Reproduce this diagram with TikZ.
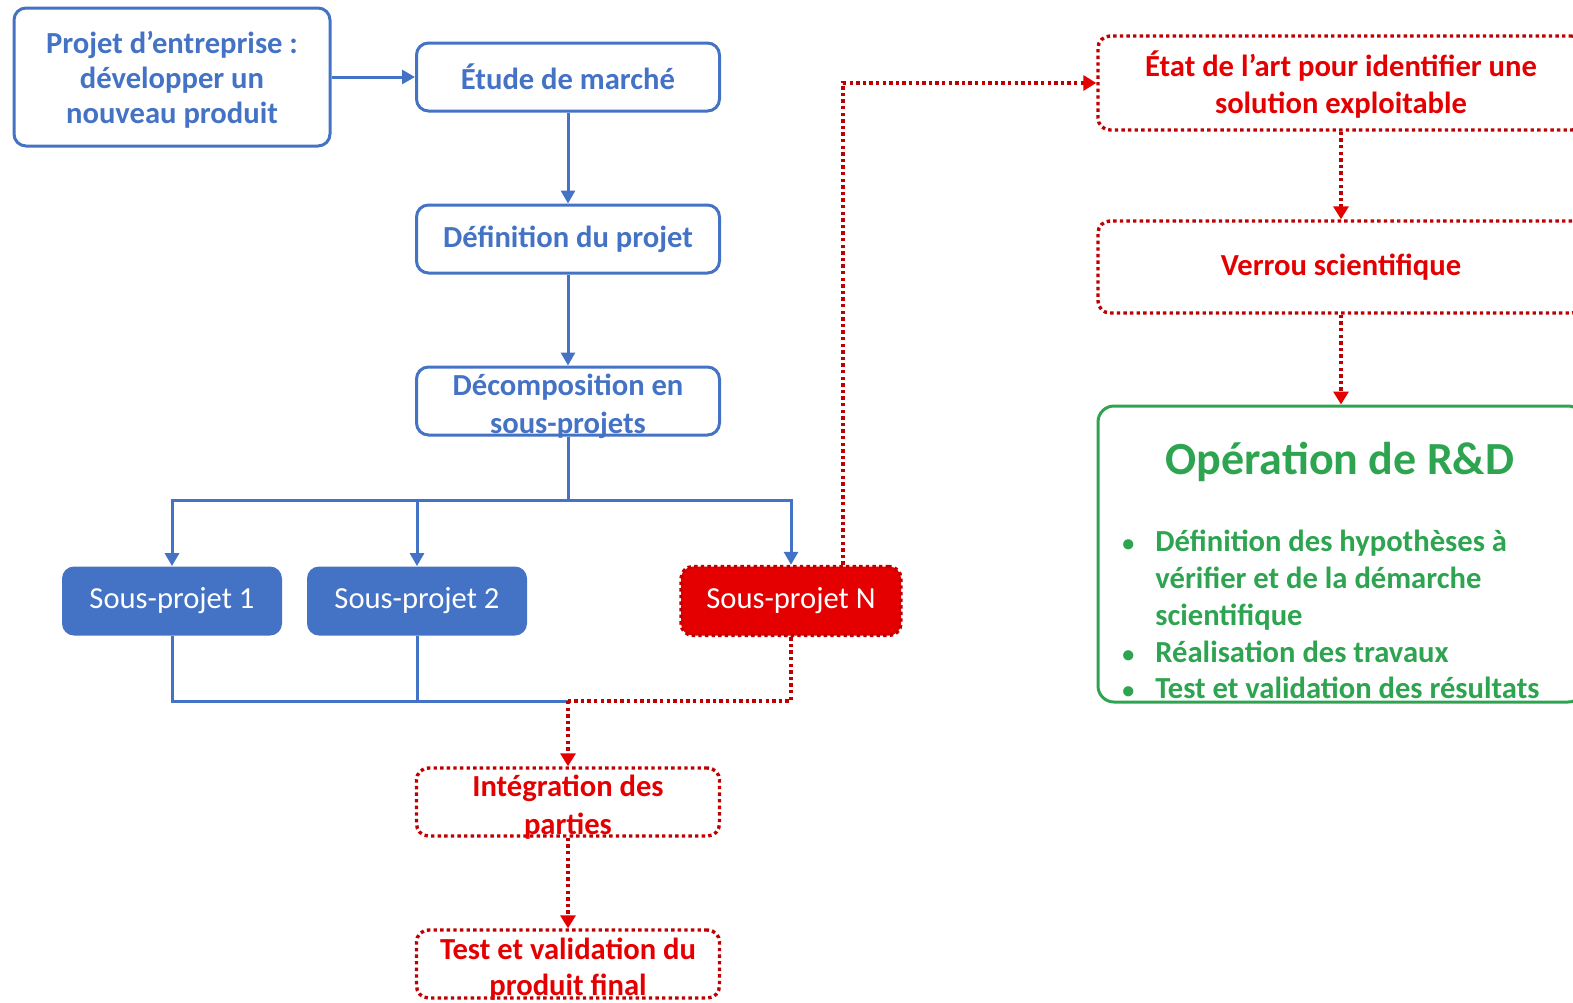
\documentclass[tikz,border=0pt]{standalone}
\usepackage{fontspec}
\setmainfont{Carlito}
\usetikzlibrary{arrows.meta}

\definecolor{bleu}{RGB}{68,114,196}
\definecolor{rouge}{RGB}{228,0,0}
\definecolor{rougef}{RGB}{192,0,0}
\definecolor{vert}{RGB}{46,164,80}

\tikzset{
  boite/.style={draw=bleu,line width=1.5pt,rounded corners=6pt,text=bleu,
    font=\bfseries\fontsize{15.3}{18.5}\selectfont,align=center,
    minimum width=151.5pt,minimum height=34pt,inner sep=2pt},
  plein/.style={fill=bleu,rounded corners=6pt,text=white,
    font=\fontsize{15.3}{18}\selectfont,minimum width=110pt,minimum height=34.5pt},
  pointille/.style={draw=rougef,line width=1.7pt,dash pattern=on 1.7pt off 1.6pt,
    rounded corners=6pt,text=rouge,font=\bfseries\fontsize{15.3}{18.5}\selectfont,
    align=center,minimum width=151.5pt,minimum height=34pt,inner sep=2pt},
  texte/.style={align=center,inner sep=0pt,yshift=-2.5pt},
  ligne/.style={draw=bleu,line width=1.5pt},
  fleche/.style={ligne,-{Triangle[length=6.5pt,width=7pt]}},
  lignerouge/.style={draw=rougef,line width=1.7pt,dash pattern=on 1.7pt off 1.6pt},
  flecherouge/.style={lignerouge,-{Triangle[length=6.5pt,width=7.5pt,color=rouge,fill=rouge]}}
}

\begin{document}
\begin{tikzpicture}[x=0.5pt,y=-0.5pt]
  \useasboundingbox (0,0) rectangle (1573,1002);

  % chaine du projet
  \node[boite,minimum width=158pt,minimum height=69pt,
        label={[texte,text=bleu,font=\bfseries\fontsize{15.3}{17.5}\selectfont,yshift=1pt]center:Projet d’entreprise :\\développer un\\nouveau produit}]
    (projet) at (172,77) {};
  \node[boite] (etude) at (568,77) {Étude de marché};
  \node[boite] (definition) at (568,239) {Définition du projet};
  \node[boite,label={[texte,text=bleu,font=\bfseries\fontsize{15.3}{19}\selectfont]center:Décomposition en\\sous-projets}]
    (decomp) at (568,401) {};

  \node[plein] (sp1) at (172,601) {Sous-projet 1};
  \node[plein] (sp2) at (417,601) {Sous-projet 2};
  \node[plein,fill=rouge,draw=rougef,line width=1.7pt,dash pattern=on 1.7pt off 1.6pt]
    (spN) at (791,601) {Sous-projet N};

  \node[pointille,label={[texte,text=rouge,font=\bfseries\fontsize{15.3}{19}\selectfont]center:Intégration des\\parties}]
    (integration) at (568,802) {};
  \node[pointille,label={[texte,text=rouge,font=\bfseries\fontsize{15.3}{18}\selectfont]center:Test et validation du\\produit final}]
    (test) at (568,964) {};

  % branche R&D
  \node[pointille,minimum width=243pt,minimum height=47pt,
        label={[texte,text=rouge,font=\bfseries\fontsize{15.3}{18.5}\selectfont,yshift=1.5pt]center:État de l’art pour identifier une\\solution exploitable}]
    (etat) at (1341,83) {};
  \node[pointille,minimum width=243pt,minimum height=46pt] (verrou) at (1341,267)
    {Verrou scientifique};
  \node[draw=vert,line width=1.5pt,rounded corners=8pt,minimum width=243pt,
        minimum height=148pt] (rd) at (1341,554) {};
  \node[text=vert,font=\bfseries\fontsize{23}{27}\selectfont] (titre) at (1340,462)
    {Opération de R\&D};
  \node[anchor=west,text=vert,inner sep=0pt,font=\bfseries\fontsize{15.3}{18.4}\selectfont]
    (liste) at (1122,618) {%
    \begin{tabular}{@{}p{16.5pt}@{}l@{}}
      {\fontsize{12}{12}\selectfont•} & Définition des hypothèses à\\
        & vérifier et de la démarche\\
        & scientifique\\
      {\fontsize{12}{12}\selectfont•} & Réalisation des travaux\\
      {\fontsize{12}{12}\selectfont•} & Test et validation des résultats
    \end{tabular}};

  \coordinate (split) at (568,500);
  \coordinate (merge) at (568,701);

  \draw[fleche] (projet) -- (etude);
  \draw[fleche] (etude) -- (definition);
  \draw[fleche] (definition) -- (decomp);
  \draw[ligne] (decomp) -- (split);
  \draw[fleche] (split) -| (sp1);
  \draw[fleche] (split) -| (sp2);
  \draw[fleche] (split) -| (spN);

  \draw[ligne] (sp1) |- (merge);
  \draw[ligne] (sp2) -- (sp2 |- merge);
  \draw[lignerouge] (spN) |- (merge);
  \draw[flecherouge] (merge) -- (integration);
  \draw[flecherouge] (integration) -- (test);

  \draw[flecherouge] ([xshift=26pt]spN.north) |- (etat);
  \draw[flecherouge] (etat) -- (verrou);
  \draw[flecherouge] (verrou) -- (rd);
\end{tikzpicture}
\end{document}
